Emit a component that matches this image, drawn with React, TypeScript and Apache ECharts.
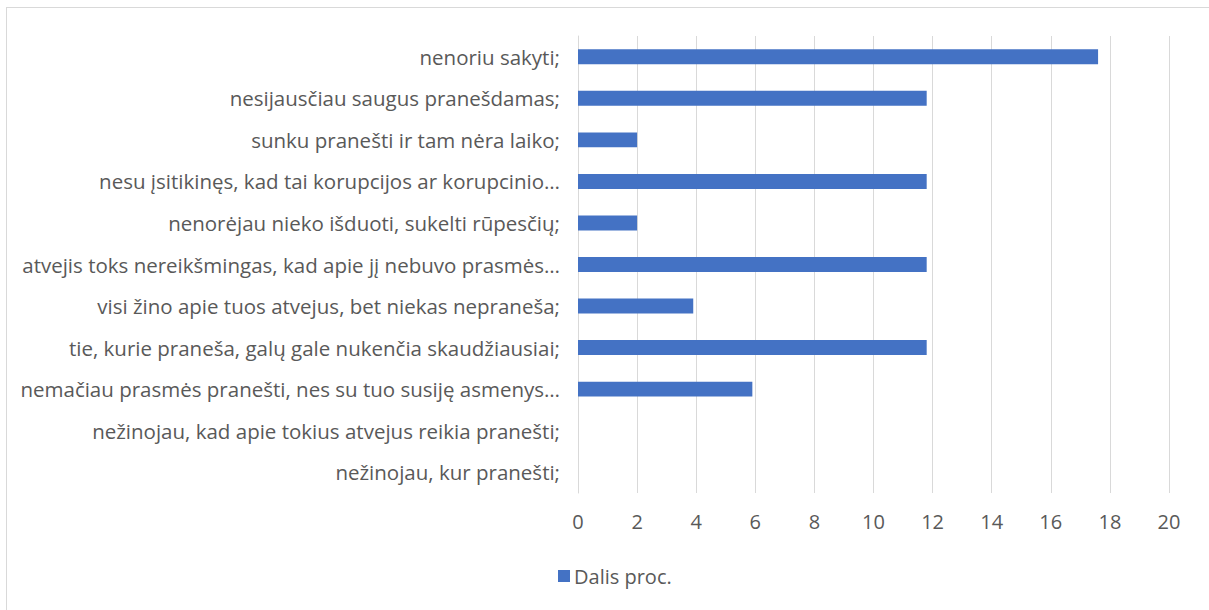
import React, { useEffect, useRef } from "react";
import * as echarts from "echarts";

const categories = [
  "nenoriu sakyti;",
  "nesijausčiau saugus pranešdamas;",
  "sunku pranešti ir tam nėra laiko;",
  "nesu įsitikinęs, kad tai korupcijos ar korupcinio…",
  "nenorėjau nieko išduoti, sukelti rūpesčių;",
  "atvejis toks nereikšmingas, kad apie jį nebuvo prasmės…",
  "visi žino apie tuos atvejus, bet niekas nepraneša;",
  "tie, kurie praneša, galų gale nukenčia skaudžiausiai;",
  "nemačiau prasmės pranešti, nes su tuo susiję asmenys…",
  "nežinojau, kad apie tokius atvejus reikia pranešti;",
  "nežinojau, kur pranešti;",
];
const values = [17.6, 11.8, 2.0, 11.8, 2.0, 11.8, 3.9, 11.8, 5.9, 0, 0];
const seriesName = "Dalis proc.";

export default function App() {
  const ref = useRef<HTMLDivElement>(null);
  useEffect(() => {
    if (!ref.current) return;
    const chart = echarts.init(ref.current, undefined, { renderer: "svg" });
    const font = "'Open Sans', 'Noto Sans', sans-serif";
    chart.setOption({
      animation: false,
      textStyle: { fontFamily: font },
      grid: { left: 571, right: 41, top: 28, bottom: 118, containLabel: false },
      legend: {
        data: [seriesName],
        left: 546,
        top: 553,
        itemWidth: 12,
        itemHeight: 12,
        itemGap: 4,
        textStyle: { color: "#595959", fontSize: 20, fontFamily: font, padding: [0, 0, 0, -1] },
        icon: "rect",
      },
      xAxis: {
        type: "value",
        min: 0,
        max: 20,
        interval: 2,
        axisLine: { show: false },
        axisTick: { show: false },
        splitLine: { show: true, lineStyle: { color: "#d9d9d9", width: 1 } },
        axisLabel: { color: "#595959", fontSize: 20, margin: 18, fontFamily: font },
      },
      yAxis: {
        type: "category",
        data: categories,
        inverse: true,
        axisLine: { show: true, lineStyle: { color: "#d9d9d9" } },
        axisTick: { show: false },
        axisLabel: { color: "#595959", fontSize: 20.5, margin: 18, fontFamily: font },
      },
      series: [
        {
          name: seriesName,
          type: "bar",
          data: values,
          barWidth: "36%",
          itemStyle: { color: "#4472c4" },
        },
      ],
    });
    return () => chart.dispose();
  }, []);
  return (
    <div
      style={{
        position: "fixed",
        left: 6,
        top: 7,
        width: 1215,
        height: 615,
        borderLeft: "1px solid #d9d9d9",
        borderTop: "1px solid #d9d9d9",
        background: "#fff",
      }}
    >
      <div ref={ref} style={{ width: 1203, height: 603 }} />
    </div>
  );
}
